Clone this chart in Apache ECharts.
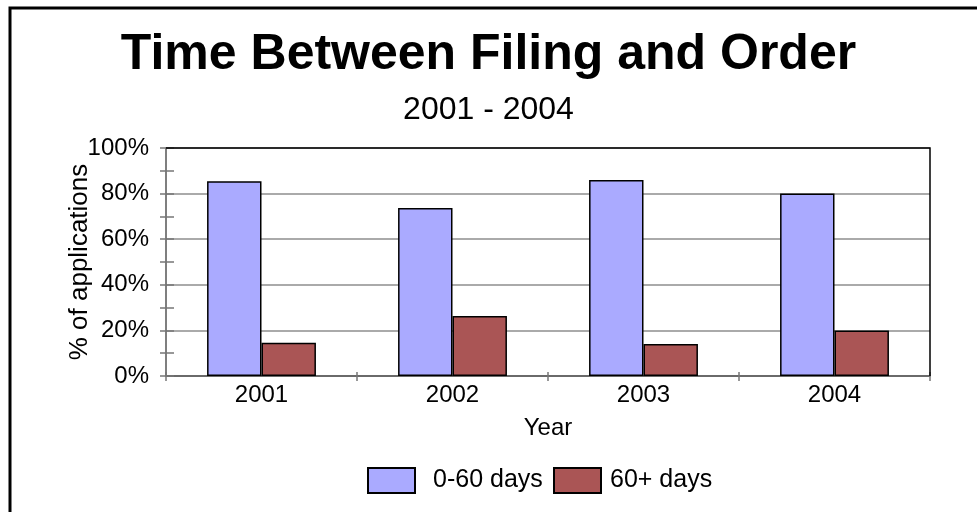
<!DOCTYPE html>
<html>
<head>
<meta charset="utf-8">
<script src="https://cdn.jsdelivr.net/npm/echarts@6/dist/echarts.min.js"></script>
<style>
  html, body { margin: 0; padding: 0; background: #fff; }
  #chart { width: 977px; height: 512px; }
</style>
</head>
<body>
<div id="chart"></div>
<script>
// Share of applications by time between filing and order
const years = ['2001', '2002', '2003', '2004'];
const days0to60 = [85.4, 73.7, 86, 80];
const days60plus = [14.6, 26.3, 14, 20];
const yTicks = [0, 20, 40, 60, 80, 100];

const FONT = '"Liberation Sans", Arial, sans-serif';
const chart = echarts.init(document.getElementById('chart'));

const grid = { left: 166, top: 148, right: 47, bottom: 136 };

function legendBox(name, left, textGap) {
  return {
    data: [name],
    left: left, top: 467, padding: 0,
    itemWidth: 47, itemHeight: 25,
    icon: 'rect',
    textStyle: { fontFamily: FONT, fontSize: 25, color: '#000', padding: [0, 0, 0, textGap] }
  };
}

chart.setOption({
  backgroundColor: '#fff',
  animation: false,
  title: [
    {
      text: 'Time Between Filing and Order',
      left: 'center', top: 25,
      textStyle: { fontFamily: FONT, fontSize: 50, fontWeight: 'bold', color: '#000' }
    },
    {
      text: '2001 - 2004',
      left: 'center', top: 89,
      textStyle: { fontFamily: FONT, fontSize: 32, fontWeight: 'normal', color: '#000' }
    }
  ],
  legend: [
    legendBox('0-60 days', 367, 13),
    legendBox('60+ days', 553, 4)
  ],
  graphic: [
    {
      // outer frame
      type: 'rect', silent: true, z: 100,
      shape: { x: 10, y: 8, width: 1000, height: 600 },
      style: { fill: 'none', stroke: '#000', lineWidth: 3 }
    },
    {
      // plot area top and right edges
      type: 'polyline', silent: true, z: 5,
      shape: { points: [[166, 148], [930, 148], [930, 376]] },
      style: { fill: 'none', stroke: '#000', lineWidth: 1.5 }
    }
  ],
  grid: grid,
  xAxis: [
    {
      type: 'category', data: years,
      name: 'Year', nameLocation: 'middle', nameGap: 40,
      nameTextStyle: { fontFamily: FONT, fontSize: 24, color: '#000' },
      axisLine: { lineStyle: { color: '#555', width: 1.5 } },
      axisTick: { show: true, alignWithLabel: false, length: 5, lineStyle: { color: '#777', width: 1.5 } },
      axisLabel: { fontFamily: FONT, fontSize: 24, color: '#000', margin: 7 }
    },
    {
      // inner half of the crossing boundary ticks
      type: 'category', data: years, position: 'bottom', offset: 0,
      axisLine: { show: false },
      axisTick: { show: true, inside: true, length: 4, lineStyle: { color: '#777', width: 1.5 } },
      axisLabel: { show: false }
    }
  ],
  yAxis: [
    {
      type: 'value', min: 0, max: 100, interval: 20,
      name: '% of applications', nameLocation: 'middle', nameGap: 73,
      nameMoveOverlap: false,
      nameTextStyle: { fontFamily: FONT, fontSize: 26, color: '#000' },
      axisLine: { show: true, lineStyle: { color: '#555', width: 1.5 } },
      axisTick: { show: true, length: 6, lineStyle: { color: '#777', width: 1.5 } },
      minorTick: { show: true, splitNumber: 2, length: 6, lineStyle: { color: '#777', width: 1.5 } },
      axisLabel: {
        fontFamily: FONT, fontSize: 24, color: '#000', margin: 17,
        formatter: v => (yTicks.includes(v) ? v + '%' : '')
      },
      splitLine: { show: true, lineStyle: { color: '#aaa', width: 2 } }
    },
    {
      // inner half of the crossing ticks every 10%
      type: 'value', min: 0, max: 100, interval: 10, position: 'left',
      axisLine: { show: false },
      axisTick: { show: true, inside: true, length: 8, lineStyle: { color: '#777', width: 1.5 } },
      axisLabel: { show: false },
      splitLine: { show: false }
    }
  ],
  series: [
    {
      name: '0-60 days', type: 'bar', data: days0to60,
      barWidth: '28.5%', barGap: '0%', z: 3,
      itemStyle: { color: '#aaaaff', borderColor: '#000', borderWidth: 1.5 }
    },
    {
      name: '60+ days', type: 'bar', data: days60plus,
      barWidth: '28.5%', barGap: '0%', z: 3,
      itemStyle: { color: '#aa5555', borderColor: '#000', borderWidth: 1.5 }
    }
  ]
});
</script>
</body>
</html>
